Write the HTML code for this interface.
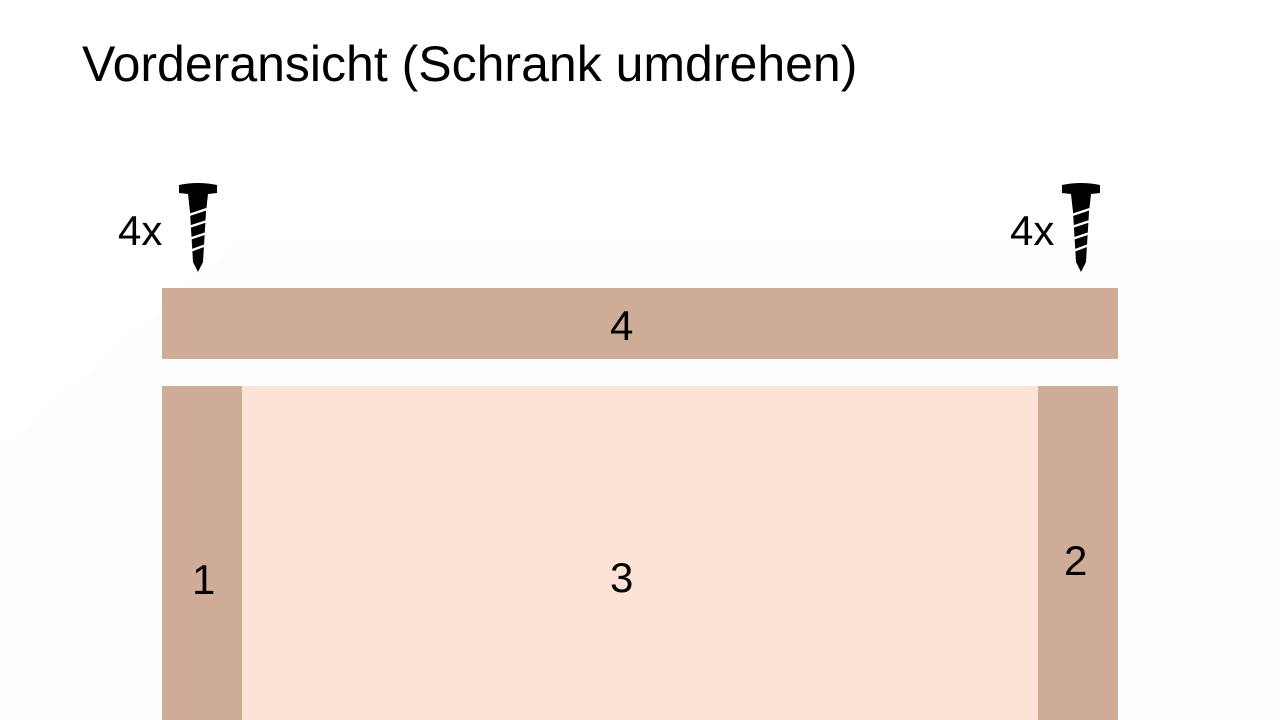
<!DOCTYPE html>
<html><head><meta charset="utf-8"><style>
body{margin:0;width:1280px;height:720px;overflow:hidden;background:#fff;font-family:"Liberation Sans",sans-serif;position:relative}
div{position:absolute}
.lbl{font-size:42px;color:#000;line-height:1}
</style></head><body>
<svg style="position:absolute;left:0;top:0" width="1280" height="720"><polygon points="0,450 240,240 1280,240 1280,720 0,720" fill="#fdfdfd"/></svg>
<div style="left:82px;top:36px;font-size:50px;line-height:56px">Vorderansicht (Schrank umdrehen)</div>
<div class="lbl" style="left:118px;top:210px">4x</div>
<div class="lbl" style="left:1010px;top:210px">4x</div>
<svg style="position:absolute;left:176px;top:182px" width="44" height="92" viewBox="0 0 44 92">
<path d="M3,3 Q22,-1 41,3 L41,11 L32,12 L30,30 L27,80 L22,90 L17,80 L14,30 L12,12 L3,11 Z" fill="#000"/>
<g stroke="#fff" stroke-width="2.5"><line x1="13" y1="33" x2="31" y2="27"/><line x1="13" y1="45" x2="31" y2="39"/><line x1="13" y1="57" x2="31" y2="51"/><line x1="14" y1="69" x2="30" y2="63"/></g></svg>
<svg style="position:absolute;left:1059px;top:182px" width="44" height="92" viewBox="0 0 44 92">
<path d="M3,3 Q22,-1 41,3 L41,11 L32,12 L30,30 L27,80 L22,90 L17,80 L14,30 L12,12 L3,11 Z" fill="#000"/>
<g stroke="#fff" stroke-width="2.5"><line x1="13" y1="33" x2="31" y2="27"/><line x1="13" y1="45" x2="31" y2="39"/><line x1="13" y1="57" x2="31" y2="51"/><line x1="14" y1="69" x2="30" y2="63"/></g></svg>
<div style="left:162px;top:288px;width:956px;height:71px;background:#cfac98"></div>
<div class="lbl" style="left:610px;top:305px">4</div>
<div style="left:242px;top:386px;width:796px;height:334px;background:#fce3d6"></div>
<div style="left:162px;top:386px;width:80px;height:334px;background:#cfac98"></div>
<div style="left:1038px;top:386px;width:80px;height:334px;background:#cfac98"></div>
<div class="lbl" style="left:192px;top:559px">1</div>
<div class="lbl" style="left:610px;top:557px">3</div>
<div class="lbl" style="left:1064px;top:540px">2</div>
</body></html>
